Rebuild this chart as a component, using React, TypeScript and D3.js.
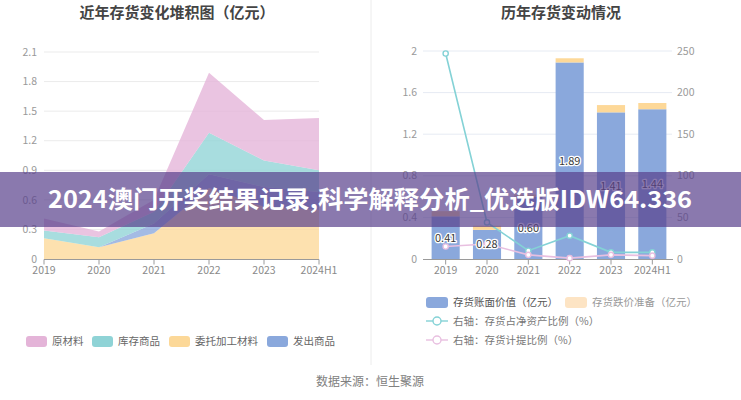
import React from 'react';
import * as d3 from 'd3';

// ---------- data ----------
const years = ['2019', '2020', '2021', '2022', '2023', '2024H1'];

// left chart: stacked inventory composition (亿元)
const outsourced = [0.21, 0.12, 0.26, 0.72, 0.53, 0.50]; // 委托加工材料
const shipped = [0.0, 0.0, 0.10, 0.14, 0.20, 0.18]; // 发出商品
const finishedGoods = [0.08, 0.10, 0.12, 0.42, 0.27, 0.22]; // 库存商品
const rawMaterial = [0.12, 0.06, 0.12, 0.61, 0.41, 0.53]; // 原材料
const leftTicks = [0, 0.3, 0.6, 0.9, 1.2, 1.5, 1.8, 2.1];
const leftTickLabels = ['0', '0.3', '0.6', '0.9', '1.2', '1.5', '1.8', '2.1'];

// right chart
const bookValue = [0.41, 0.28, 0.60, 1.89, 1.41, 1.44]; // 存货账面价值
const impairment = [0.05, 0.04, 0.02, 0.04, 0.07, 0.06]; // 存货跌价准备
const netAssetRatio = [247, 44, 10, 28, 8, 8]; // 存货占净资产比例 %
const provisionRatio = [15, 18, 5, 1, 5, 4]; // 存货计提比例 %
const rightTicksL = [0, 0.4, 0.8, 1.2, 1.6, 2];
const rightTicksR = [0, 50, 100, 150, 200, 250];

const FONT = '"Noto Sans CJK SC", "Noto Sans", sans-serif';

const COLORS = {
  raw: '#e4b4d8',
  goods: '#8fd3d6',
  outsourced: '#fcd898',
  shipped: '#8aa8dc',
  bar: '#8aa8dc',
  impair: '#fdd898',
  teal: '#84d2d6',
  pink: '#e8bfe0',
};

export default function App() {
  // ---------- left chart ----------
  const xL = d3.scalePoint<string>().domain(years).range([44, 319]);
  const yL = d3.scaleLinear().domain([0, 2.1]).range([259, 52]);

  const rows = years.map((y, i) => ({
    year: y,
    outsourced: outsourced[i],
    shipped: shipped[i],
    goods: finishedGoods[i],
    raw: rawMaterial[i],
  }));
  const keys = ['outsourced', 'shipped', 'goods', 'raw'];
  const stacked = d3.stack<any>().keys(keys)(rows);
  const area = d3
    .area<any>()
    .x((d) => xL(d.data.year) as number)
    .y0((d) => yL(d[0]))
    .y1((d) => yL(d[1]));
  const colorOf: Record<string, string> = {
    outsourced: COLORS.outsourced,
    shipped: COLORS.shipped,
    goods: COLORS.goods,
    raw: COLORS.raw,
  };

  // ---------- right chart ----------
  const xR = d3
    .scaleBand<string>()
    .domain(years)
    .range([425, 673])
    .paddingInner(0.32)
    .paddingOuter(0.16);
  const yR = d3.scaleLinear().domain([0, 2]).range([259, 51]);
  const yR2 = d3.scaleLinear().domain([0, 250]).range([259, 51]);
  const cx = (y: string) => (xR(y) as number) + xR.bandwidth() / 2;

  const line = d3
    .line<number>()
    .x((_, i) => cx(years[i]))
    .y((d) => yR2(d));

  const leftLegend = [
    { label: '原材料', color: COLORS.raw, x: 26 },
    { label: '库存商品', color: COLORS.goods, x: 92 },
    { label: '委托加工材料', color: COLORS.outsourced, x: 169 },
    { label: '发出商品', color: COLORS.shipped, x: 267 },
  ];

  return (
    <svg
      width={741}
      height={400}
      style={{ position: 'absolute', left: 0, top: 0, background: '#fff' }}
      fontFamily={FONT}
    >
      <rect x={0} y={0} width={741} height={400} fill="#fff" />
      {/* divider */}
      <line x1={371} x2={371} y1={0} y2={365} stroke="#ececec" strokeWidth={1} />

      {/* ================= LEFT ================= */}
      <text x={177} y={18} textAnchor="middle" fontSize={15} fontWeight={700} fill="#444">
        近年存货变化堆积图（亿元）
      </text>
      {leftTicks.map((t, i) => (
        <g key={'lt' + i}>
          {t !== 0 && (
            <line x1={44} x2={319} y1={yL(t)} y2={yL(t)} stroke="#ebebeb" strokeWidth={1} />
          )}
          <text
            x={37}
            y={yL(t)}
            dy="0.35em"
            textAnchor="end"
            fontSize={10.5}
            fill="#9a9a9a"
          >
            {leftTickLabels[i]}
          </text>
        </g>
      ))}
      {stacked.map((s) => (
        <path key={s.key} d={area(s) as string} fill={colorOf[s.key]} fillOpacity={0.78} />
      ))}
      <line x1={44} x2={319} y1={259.5} y2={259.5} stroke="#9a9a9a" strokeWidth={1} />
      {years.map((y) => (
        <g key={'lx' + y}>
          <line
            x1={xL(y) as number}
            x2={xL(y) as number}
            y1={259.5}
            y2={264.5}
            stroke="#9a9a9a"
          />
          <text x={xL(y) as number} y={274} textAnchor="middle" fontSize={10.5} fill="#8a8a8a">
            {y}
          </text>
        </g>
      ))}
      {leftLegend.map((l) => (
        <g key={l.label}>
          <rect x={l.x} y={336} width={21} height={11} rx={3} fill={l.color} />
          <text x={l.x + 26} y={341.5} dy="0.35em" fontSize={10.5} fill="#666">
            {l.label}
          </text>
        </g>
      ))}

      {/* ================= RIGHT ================= */}
      <text x={561} y={18} textAnchor="middle" fontSize={15} fontWeight={700} fill="#444">
        历年存货变动情况
      </text>
      {rightTicksL.map((t, i) => (
        <g key={'rt' + i}>
          {t !== 0 && (
            <line x1={423} x2={672} y1={yR(t)} y2={yR(t)} stroke="#e6ebf3" strokeWidth={1} />
          )}
          <text x={417} y={yR(t)} dy="0.35em" textAnchor="end" fontSize={10.5} fill="#9a9a9a">
            {String(t)}
          </text>
        </g>
      ))}
      {rightTicksR.map((t) => (
        <text key={'rr' + t} x={677} y={yR2(t)} dy="0.35em" fontSize={10.5} fill="#9a9a9a">
          {String(t)}
        </text>
      ))}
      {years.map((y, i) => (
        <g key={'bar' + y}>
          <rect
            x={xR(y) as number}
            width={xR.bandwidth()}
            y={yR(bookValue[i])}
            height={yR(0) - yR(bookValue[i])}
            fill={COLORS.bar}
          />
          <rect
            x={xR(y) as number}
            width={xR.bandwidth()}
            y={yR(bookValue[i] + impairment[i])}
            height={yR(bookValue[i]) - yR(bookValue[i] + impairment[i])}
            fill={COLORS.impair}
          />
        </g>
      ))}
      <line x1={423} x2={673} y1={259.5} y2={259.5} stroke="#9a9a9a" strokeWidth={1} />
      {years.map((y) => (
        <g key={'rx' + y}>
          <line x1={cx(y)} x2={cx(y)} y1={259.5} y2={264.5} stroke="#9a9a9a" />
          <text x={cx(y)} y={274} textAnchor="middle" fontSize={10.5} fill="#8a8a8a">
            {y}
          </text>
        </g>
      ))}
      {/* lines */}
      <path d={line(netAssetRatio) as string} fill="none" stroke={COLORS.teal} strokeWidth={1.6} />
      <path d={line(provisionRatio) as string} fill="none" stroke={COLORS.pink} strokeWidth={1.6} />
      {netAssetRatio.map((v, i) => (
        <circle key={'tc' + i} cx={cx(years[i])} cy={yR2(v)} r={2.6} fill="#fff" stroke={COLORS.teal} strokeWidth={1.4} />
      ))}
      {provisionRatio.map((v, i) => (
        <circle key={'pc' + i} cx={cx(years[i])} cy={yR2(v)} r={2.6} fill="#fff" stroke={COLORS.pink} strokeWidth={1.4} />
      ))}
      {/* bar labels */}
      {years.map((y, i) => (
        <text
          key={'bl' + y}
          x={cx(y)}
          y={(yR(bookValue[i]) + yR(0)) / 2}
          dy="0.35em"
          textAnchor="middle"
          fontSize={11}
          fill="#3a3a3a"
          stroke="#fff"
          strokeWidth={2.5}
          strokeLinejoin="round"
          paintOrder="stroke"
        >
          {bookValue[i].toFixed(2)}
        </text>
      ))}

      {/* right legend */}
      <rect x={426} y={297} width={22} height={11} rx={3} fill={COLORS.bar} />
      <text x={453} y={302.5} dy="0.35em" fontSize={10.5} fill="#555">
        存货账面价值（亿元）
      </text>
      <rect x={565} y={297} width={22} height={11} rx={3} fill="#fde4c4" />
      <text x={592} y={302.5} dy="0.35em" fontSize={10.5} fill="#999">
        存货跌价准备（亿元）
      </text>
      <line x1={426} x2={448} y1={321} y2={321} stroke={COLORS.teal} strokeWidth={1.4} />
      <circle cx={437} cy={321} r={4} fill="#fff" stroke={COLORS.teal} strokeWidth={1.4} />
      <text x={453} y={321} dy="0.35em" fontSize={10.5} fill="#777">
        右轴：存货占净资产比例（%）
      </text>
      <line x1={426} x2={448} y1={340} y2={340} stroke={COLORS.pink} strokeWidth={1.4} />
      <circle cx={437} cy={340} r={4} fill="#fff" stroke={COLORS.pink} strokeWidth={1.4} />
      <text x={453} y={340} dy="0.35em" fontSize={10.5} fill="#777">
        右轴：存货计提比例（%）
      </text>

      {/* footer */}
      <text x={370} y={382} dy="0.35em" textAnchor="middle" fontSize={12} fill="#808080">
        数据来源：恒生聚源
      </text>

      {/* banner overlay */}
      <rect x={0} y={172} width={741} height={55} fill="rgb(88,64,140)" fillOpacity={0.7} />
      <text
        x={370}
        y={200}
        dy="0.36em"
        textAnchor="middle"
        fontSize={23.5}
        fontWeight={700}
        fill="#fff"
        textLength={644}
        lengthAdjust="spacingAndGlyphs"
      >
        2024澳门开奖结果记录,科学解释分析_优选版IDW64.336
      </text>
    </svg>
  );
}
